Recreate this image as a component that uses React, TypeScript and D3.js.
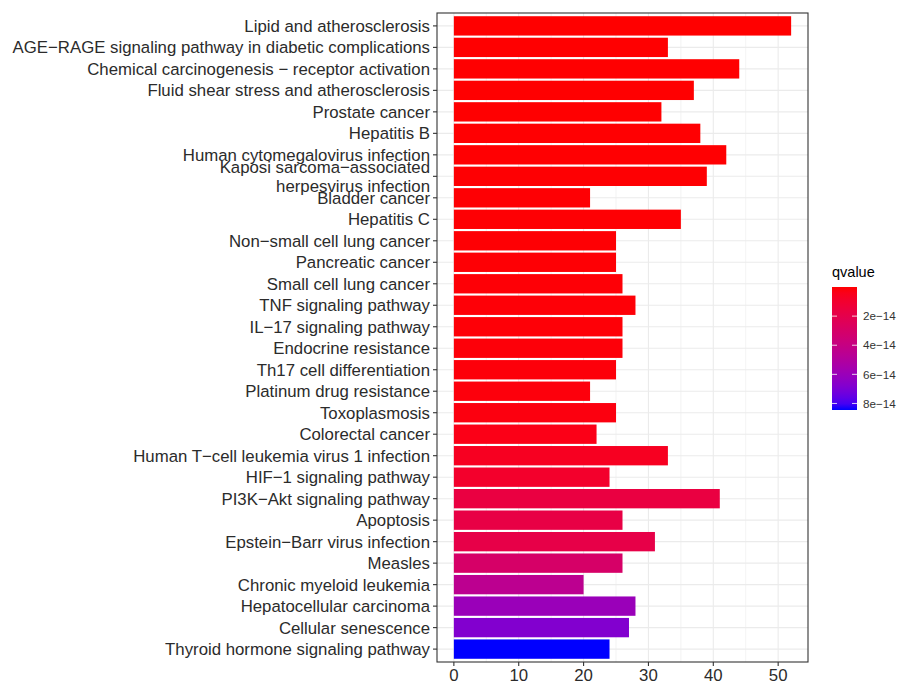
import React from "react";
import * as d3 from "d3";

const categories: string[] = [
  "Lipid and atherosclerosis",
  "AGE−RAGE signaling pathway in diabetic complications",
  "Chemical carcinogenesis − receptor activation",
  "Fluid shear stress and atherosclerosis",
  "Prostate cancer",
  "Hepatitis B",
  "Human cytomegalovirus infection",
  "Kaposi sarcoma−associated\nherpesvirus infection",
  "Bladder cancer",
  "Hepatitis C",
  "Non−small cell lung cancer",
  "Pancreatic cancer",
  "Small cell lung cancer",
  "TNF signaling pathway",
  "IL−17 signaling pathway",
  "Endocrine resistance",
  "Th17 cell differentiation",
  "Platinum drug resistance",
  "Toxoplasmosis",
  "Colorectal cancer",
  "Human T−cell leukemia virus 1 infection",
  "HIF−1 signaling pathway",
  "PI3K−Akt signaling pathway",
  "Apoptosis",
  "Epstein−Barr virus infection",
  "Measles",
  "Chronic myeloid leukemia",
  "Hepatocellular carcinoma",
  "Cellular senescence",
  "Thyroid hormone signaling pathway",
];

const counts: number[] = [
  52, 33, 44, 37, 32, 38, 42, 39, 21, 35, 25, 25, 26, 28, 26, 26, 25, 21, 25, 22,
  33, 24, 41, 26, 31, 26, 20, 28, 27, 24,
];

const qvalues: number[] = [
  0.00e-14, 0.01e-14, 0.01e-14, 0.02e-14, 0.02e-14, 0.03e-14, 0.03e-14, 0.04e-14,
  0.05e-14, 0.05e-14, 0.06e-14, 0.07e-14, 0.08e-14, 0.09e-14, 0.1e-14, 0.12e-14,
  0.14e-14, 0.16e-14, 0.2e-14, 0.35e-14, 0.6e-14, 0.9e-14, 1.6e-14, 1.75e-14,
  1.85e-14, 3.0e-14, 4.5e-14, 6.0e-14, 6.8e-14, 8.45e-14,
];

const xTicks: number[] = [0, 10, 20, 30, 40, 50];
const xMinor: number[] = [5, 15, 25, 35, 45];
const legendTicks: number[] = [2e-14, 4e-14, 6e-14, 8e-14];
const legendLabels: string[] = ["2e−14", "4e−14", "6e−14", "8e−14"];

const FONT = "'Liberation Sans', Arial, Helvetica, sans-serif";

export default function App() {
  const width = 900;
  const height = 684;
  const panel = { left: 437, right: 808, top: 13, bottom: 662 };

  const xMax = d3.max(counts) as number;
  const x = d3
    .scaleLinear()
    .domain([-xMax * 0.05, xMax * 1.05])
    .range([panel.left, panel.right]);

  const y = d3
    .scalePoint<string>()
    .domain(categories)
    .range([panel.top, panel.bottom])
    .padding(0.6);
  const bw = y.step() * 0.9;

  const qMin = d3.min(qvalues) as number;
  const qMax = d3.max(qvalues) as number;
  const color = d3
    .scaleLinear<string>()
    .domain([qMin, qMax])
    .range(["#ff0000", "#0000ff"])
    .interpolate(d3.interpolateLab);

  const leg = { x: 832, w: 25, top: 287, bottom: 410 };
  const ly = d3.scaleLinear().domain([qMin, qMax]).range([leg.top, leg.bottom]);
  const stops = d3.range(0, 1.0001, 0.05);

  return (
    <svg width={width} height={height} style={{ display: "block", position: "absolute", left: 0, top: 0 }}>
      <defs>
        <linearGradient id="qgrad" x1="0" y1="0" x2="0" y2="1">
          {stops.map((t, i) => (
            <stop key={i} offset={t} stopColor={color(qMin + t * (qMax - qMin))} />
          ))}
        </linearGradient>
      </defs>
      <rect x={0} y={0} width={width} height={height} fill="white" />
      {/* panel */}
      <rect x={panel.left} y={panel.top} width={panel.right - panel.left} height={panel.bottom - panel.top} fill="white" />
      {xMinor.map((v) => (
        <line key={"mn" + v} x1={x(v)} x2={x(v)} y1={panel.top} y2={panel.bottom} stroke="#ebebeb" strokeWidth={0.6} />
      ))}
      {xTicks.map((v) => (
        <line key={"mj" + v} x1={x(v)} x2={x(v)} y1={panel.top} y2={panel.bottom} stroke="#ebebeb" strokeWidth={1.1} />
      ))}
      {categories.map((c) => (
        <line key={"hg" + c} x1={panel.left} x2={panel.right} y1={y(c)} y2={y(c)} stroke="#ebebeb" strokeWidth={1.1} />
      ))}
      {categories.map((c, i) => (
        <rect
          key={"b" + c}
          x={x(0)}
          y={(y(c) as number) - bw / 2}
          width={x(counts[i]) - x(0)}
          height={bw}
          fill={color(qvalues[i])}
        />
      ))}
      <rect
        x={panel.left}
        y={panel.top}
        width={panel.right - panel.left}
        height={panel.bottom - panel.top}
        fill="none"
        stroke="#333333"
        strokeWidth={1.1}
      />
      {/* y axis */}
      {categories.map((c) => {
        const cy = y(c) as number;
        const lines = c.split("\n");
        const lh = 18.5;
        return (
          <g key={"yl" + c}>
            <line x1={panel.left - 4} x2={panel.left} y1={cy} y2={cy} stroke="#333333" strokeWidth={1.1} />
            <text
              x={panel.left - 7}
              textAnchor="end"
              fontFamily={FONT}
              fontSize={16.8}
              fill="#2b2b2b"
            >
              {lines.map((ln, k) => (
                <tspan key={k} x={panel.left - 7} y={cy + (k - (lines.length - 1) / 2) * lh} dy="0.36em">
                  {ln}
                </tspan>
              ))}
            </text>
          </g>
        );
      })}
      {/* x axis */}
      {xTicks.map((v) => (
        <g key={"xt" + v}>
          <line x1={x(v)} x2={x(v)} y1={panel.bottom} y2={panel.bottom + 4} stroke="#333333" strokeWidth={1.1} />
          <text x={x(v)} y={panel.bottom + 19} textAnchor="middle" fontFamily={FONT} fontSize={16.8} fill="#2b2b2b">
            {v}
          </text>
        </g>
      ))}
      {/* legend */}
      <text x={leg.x} y={277} fontFamily={FONT} fontSize={14.5} fill="#000000">
        qvalue
      </text>
      <rect x={leg.x} y={leg.top} width={leg.w} height={leg.bottom - leg.top} fill="url(#qgrad)" />
      {legendTicks.map((v, i) => (
        <g key={"lt" + v}>
          <line x1={leg.x} x2={leg.x + 5} y1={ly(v)} y2={ly(v)} stroke="white" strokeOpacity={0.8} />
          <line x1={leg.x + leg.w - 5} x2={leg.x + leg.w} y1={ly(v)} y2={ly(v)} stroke="white" strokeOpacity={0.8} />
          <text x={leg.x + leg.w + 6} y={ly(v)} dy="0.36em" fontFamily={FONT} fontSize={11.7} fill="#333333">
            {legendLabels[i]}
          </text>
        </g>
      ))}
    </svg>
  );
}
